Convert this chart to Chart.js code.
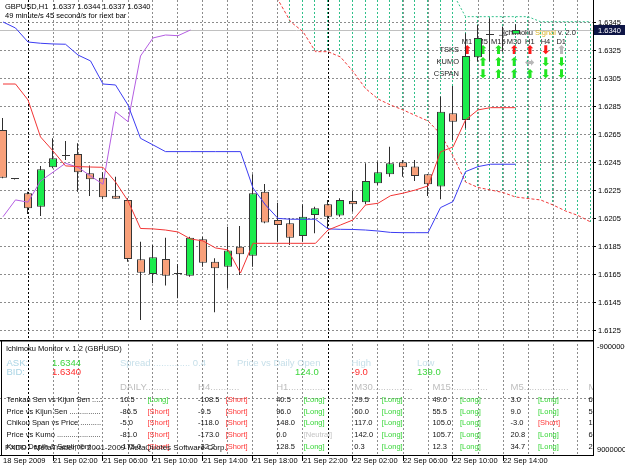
<!DOCTYPE html>
<html>
<head>
<meta charset="utf-8">
<script src="https://cdn.jsdelivr.net/npm/chart.js@4.4.1/dist/chart.umd.min.js"></script>
<style>
  html, body { margin: 0; padding: 0; background: #fff; }
</style>
</head>
<body>
<canvas id="ichi" width="625" height="469"></canvas>
<script>
// GBPUSD H1, one entry per bar, 18 Sep 22:00 -> 22 Sep 15:00
var opens  = [1.62686,1.62336,1.62234,1.62138,1.62419,1.62500,1.62514,1.62376,1.62345,1.62216,
              1.62186,1.61762,1.61657,1.61764,1.61657,1.61645,1.61905,1.61745,1.61709,1.61852,
              1.61788,1.62245,1.62043,1.62019,1.61929,1.62079,1.62155,1.62074,1.62179,1.62169,
              1.62305,1.62369,1.62455,1.62424,1.62369,1.62281,1.62805,1.62757,1.63205,1.63364,
              1.63359,1.63370];
var highs  = [1.62771,1.62340,1.62245,1.62429,1.62626,1.62607,1.62591,1.62431,1.62384,1.62352,
              1.62198,1.61888,1.61864,1.61916,1.61729,1.61923,1.61923,1.61769,1.61995,1.62000,
              1.62369,1.62300,1.62166,1.62055,1.62155,1.62138,1.62186,1.62198,1.62252,1.62448,
              1.62459,1.62566,1.62471,1.62471,1.62371,1.62924,1.63000,1.63376,1.63436,1.63484,
              1.63424,1.63440];
var lows   = [1.62340,1.62332,1.62086,1.62071,1.62412,1.62471,1.62245,1.62214,1.62191,1.62195,
              1.61745,1.61329,1.61591,1.61574,1.61484,1.61638,1.61709,1.61384,1.61555,1.61650,
              1.61709,1.62020,1.61888,1.61864,1.61888,1.61948,1.61984,1.62066,1.62102,1.62155,
              1.62293,1.62352,1.62352,1.62321,1.62214,1.62191,1.62614,1.62698,1.63174,1.63174,
              1.63245,1.63370];
var closes = [1.62345,1.62336,1.62126,1.62405,1.62484,1.62504,1.62384,1.62334,1.62205,1.62195,
              1.61764,1.61666,1.61776,1.61645,1.61657,1.61916,1.61738,1.61698,1.61824,1.61798,
              1.62234,1.62024,1.62007,1.61916,1.62066,1.62126,1.62066,1.62186,1.62155,1.62321,
              1.62384,1.62448,1.62419,1.62357,1.62298,1.62816,1.62745,1.63214,1.63343,1.63364,
              1.63359,1.63400];

var tenkan = [1.63014,1.63014,1.62900,1.62636,1.62536,1.62429,1.62424,1.62421,1.62419,1.62314,
              1.62179,1.61982,1.61979,1.61971,1.61957,1.61907,1.61893,1.61843,1.61829,1.61664,
              1.61876,1.61876,1.61876,1.61876,1.61876,1.61876,1.61971,1.62007,1.62043,1.62150,
              1.62162,1.62216,1.62234,1.62257,1.62286,1.62529,1.62564,1.62757,1.62829,1.62845,
              1.62845,1.62845];
var kijun  = [1.63457,1.63414,1.63314,1.63305,1.63300,1.63298,1.63221,1.63179,1.63014,1.63007,
              1.62864,1.62626,1.62579,1.62531,1.62531,1.62531,1.62531,1.62531,1.62531,1.62531,
              1.62271,1.62150,1.62054,1.62048,1.62048,1.62048,1.61979,1.61976,1.61975,1.61971,
              1.61964,1.61954,1.61952,1.61952,1.61952,1.62131,1.62174,1.62388,1.62424,1.62441,
              1.62441,1.62441];
// chikou span starts at bar 0
var chikou = [1.62066,1.62186,1.62170,1.62321,1.62384,1.62448,1.62419,1.62357,1.62298,1.62816,
              1.62745,1.63214,1.63343,1.63364,1.63359,1.63400];
// senkou spans start at bar 21 (shifted into the future)
var kumoStart = 21;
var senkouA = [1.63700,1.63616,1.63459,1.63388,1.63245,1.63245,1.63207,1.63104,1.62982,1.62907,
               1.62864,1.62829,1.62789,1.62750,1.62657,1.62500,1.62314,1.62275,1.62257,1.62239,
               1.62207,1.62196,1.62186,1.62150,1.62107,1.62075,1.62029];
var senkouB = [1.63660,1.63660,1.63660,1.63660,1.63660,1.63660,1.63660,1.63660,1.63660,1.63660,
               1.63660,1.63660,1.63660,1.63660,1.63660,1.63660,1.63495,1.63495,1.63495,1.63495,
               1.63495,1.63495,1.63459,1.63459,1.63459,1.63459,1.63459];

var priceTicks = [1.6125,1.6145,1.6165,1.6185,1.6205,1.6225,1.6245,1.6265,1.6285,1.6305,1.6325,1.6345];
var timeTickBars = [0,4,8,12,16,20,24,28,32,36,40];
var timeTickLabels = ['18 Sep 2009','21 Sep 02:00','21 Sep 06:00','21 Sep 10:00','21 Sep 14:00',
                      '21 Sep 18:00','21 Sep 22:00','22 Sep 02:00','22 Sep 06:00','22 Sep 10:00','22 Sep 14:00'];
var daySeparators = [2, 26];
var askPrice = 1.6344;

// Ichimoku Signal v. 2.0 panel
var panelCols = ['M1','M5','M15','M30','H1','H4','D1'];
var panelRows = ['TSKS','KUMO','CSPAN'];
var panelArrows = [
  ['up:r','up:g','up:g','up:r','up:r','dn:r','up:s'],
  ['up:g','up:g','up:g','up:g','lr:s','dn:g','dn:g'],
  ['dn:g','dn:g','up:g','up:g','up:g','dn:g','dn:g']
];

// Ichimoku Monitor v. 1.2 table
var monFrames = ['DAILY.........','H4...........','H1..............','M30...............','M15..............','M5.................','M1...........'];
var monRows = ['Tenkan Sen vs Kijun Sen','Price vs Kijun Sen','Chikou Span vs Price','Price vs Kumo','Kumo Depth & Sentiment'];
var monValues = [
  ['10.5','-108.5','40.5','29.5','49.0','3.0','6.5'],
  ['-86.5','-9.5','96.0','60.0','55.5','9.0','5.0'],
  ['-5.0','-118.0','148.0','117.0','105.0','-3.0','10.0'],
  ['-81.0','-173.0','0.0','142.0','105.7','20.8','6.0'],
  ['-175.0','-32.2','128.5','0.3','12.3','34.7','2.5']
];
var monSignals = [
  ['Long','Short','Long','Long','Long','Long','Long'],
  ['Short','Short','Long','Long','Long','Long','Long'],
  ['Short','Short','Long','Long','Long','Short','Long'],
  ['Short','Short','Neutral','Long','Long','Long','Long'],
  ['Short','Short','Long','Long','Long','Long','Long']
];
var dailyOpenDiff = '124.0', highDiff = '-9.0', lowDiff = '139.0', spread = '0.4';

var FONT = '"Liberation Sans", Arial, sans-serif';
function f(px, w) { return (w ? w + ' ' : '') + px + 'px ' + FONT; }

var bull = '#1aec4c', bear = '#f8a07a';
var gridGray = '#8c8c8c';
var bodyColors = opens.map(function(o, i) {
  return closes[i] > o ? bull : (closes[i] < o ? bear : '#222');
});

function dotPattern(color) {
  var c = document.createElement('canvas');
  c.width = 1; c.height = 4;
  var g = c.getContext('2d');
  g.fillStyle = color;
  g.fillRect(0, 0, 1, 2);
  return g.createPattern(c, 'repeat');
}

function pts(values, start) {
  return values.map(function(v, i) { return {x: start + i, y: v}; });
}

function txt(ctx, s, x, y, font, color, align) {
  ctx.font = font;
  ctx.fillStyle = color;
  ctx.textAlign = align || 'left';
  ctx.textBaseline = 'middle';
  ctx.fillText(s, x, y);
}

var arrowGlyph = {up: '\u2B06', dn: '\u2B07', lr: '\u2B0C'};
var arrowColor = {r: '#ff1a1a', g: '#22e622', s: '#b8b8b8'};
var sigColor = {Long: '#36d636', Short: '#ff3838', Neutral: '#c4c4c4'};

var overlay = {
  id: 'mtOverlay',
  afterDatasetsUpdate: function(chart) {
    // snap bars onto whole pixels like the terminal does
    chart.data.datasets.forEach(function(ds, i) {
      if (ds.type !== 'bar') return;
      chart.getDatasetMeta(i).data.forEach(function(el) {
        var r = Math.round(el.x);
        el.x = ds.maxBarThickness === 1 ? r - 0.5 : r;
      });
    });
  },
  beforeDatasetsDraw: function(chart) {
    var ctx = chart.ctx, a = chart.chartArea, ys = chart.scales.y;
    ctx.save();
    // sub window level line
    ctx.strokeStyle = gridGray;
    ctx.lineWidth = 1;
    ctx.setLineDash([2, 2]);
    ctx.beginPath();
    ctx.moveTo(a.left, 398.5); ctx.lineTo(a.right, 398.5);
    ctx.stroke();
    ctx.setLineDash([]);
    // bid line
    ctx.strokeStyle = '#c0c0c0';
    var by = Math.round(ys.getPixelForValue(closes[closes.length - 1])) + 0.5;
    ctx.beginPath();
    ctx.moveTo(a.left, by); ctx.lineTo(a.right, by);
    ctx.stroke();

    // signal panel (candles are drawn over it)
    var t0 = 'Ichimoku ', t1 = 'Signal', t2 = ' v. 2.0';
    ctx.font = f(7.5);
    var w0 = ctx.measureText(t0).width, w1 = ctx.measureText(t1).width;
    txt(ctx, t0, 503, 33, f(7.5), '#222');
    txt(ctx, t1, 503 + w0, 33, f(7.5), '#d8b429');
    txt(ctx, t2, 503 + w0 + w1, 33, f(7.5), '#222');
    panelCols.forEach(function(c, k) {
      txt(ctx, c, 467 + 15.7 * k, 41.5, f(7.5), '#222', 'center');
    });
    panelRows.forEach(function(r, j) {
      var y = 50 + 12 * j;
      txt(ctx, r, 459, y, f(7.5), '#222', 'right');
      panelArrows[j].forEach(function(code, k) {
        var p = code.split(':');
        txt(ctx, arrowGlyph[p[0]], 467 + 15.7 * k, y + 0.5, 'bold 12px "DejaVu Sans"', arrowColor[p[1]], 'center');
      });
    });
    ctx.restore();
  },
  afterDraw: function(chart) {
    var ctx = chart.ctx, a = chart.chartArea, ys = chart.scales.y;
    var n = closes.length - 1;
    ctx.save();
    // chart header
    var ohlc = [opens[n], highs[n], lows[n], closes[n]].map(function(v) { return v.toFixed(4); }).join(' ');
    txt(ctx, 'GBPUSD,H1  ' + ohlc, 5, 7, f(7.5), '#000');
    txt(ctx, '49 minute/s 45 second/s for next bar', 5, 16, f(7.5), '#000');

    // bid label on the price scale
    var by = Math.round(ys.getPixelForValue(closes[n]));
    ctx.fillStyle = '#0e1545';
    ctx.fillRect(a.right + 1, by - 5, 40, 10);
    txt(ctx, closes[n].toFixed(4), a.right + 5, by + 0.5, f(7.5), '#fff');

    // window separator and sub window frame
    ctx.fillStyle = '#000';
    ctx.fillRect(0, 340, a.right, 1);
    ctx.fillStyle = '#808080';
    ctx.fillRect(0, 341, a.right, 1);
    ctx.fillStyle = '#000';
    ctx.fillRect(1, 341, 1, a.bottom - 341);
    txt(ctx, '-9000000', a.right + 4, 346.5, f(7.5), '#000');
    txt(ctx, '9000000', a.right + 4, 450, f(7.5), '#000');

    // Ichimoku Monitor text
    ctx.beginPath();
    ctx.rect(0, 342, a.right, a.bottom - 342);
    ctx.clip();
    txt(ctx, 'Ichimoku Monitor v. 1.2 (GBPUSD)', 6, 348.5, f(7.5), '#000');
    var lb = '#a9d4e4', lb2 = '#c6dfe9', gr = '#3ed63e', rd = '#ff2e2e';
    txt(ctx, 'ASK:', 6.5, 363.5, f(9.5), lb);
    txt(ctx, askPrice.toFixed(4), 52, 363.5, f(9.5), gr);
    txt(ctx, 'BID:', 6.5, 372.5, f(9.5), lb);
    txt(ctx, closes[n].toFixed(4), 52, 372.5, f(9.5), rd);
    txt(ctx, 'Spread .............. ' + spread, 120, 363.5, f(9.5), lb2);
    txt(ctx, 'Price vs Daily Open', 237, 363.5, f(9.5), lb2);
    txt(ctx, dailyOpenDiff, 295, 372.5, f(9.5), gr);
    txt(ctx, 'High', 351.5, 363.5, f(9.5), lb2);
    txt(ctx, highDiff, 351.5, 372.5, f(9.5), rd);
    txt(ctx, 'Low', 417, 363.5, f(9.5), lb2);
    txt(ctx, lowDiff, 417, 372.5, f(9.5), gr);

    monFrames.forEach(function(h, k) {
      txt(ctx, h, 120 + 78.1 * k, 387.5, f(9.5), '#bdbdbd');
    });
    monRows.forEach(function(r, j) {
      var y = 400 + 11.7 * j;
      ctx.font = f(7.5);
      var s = r + ' ';
      while (ctx.measureText(s + '.').width < 96) s += '.';
      txt(ctx, s, 6.5, y, f(7.5), '#111');
      monValues[j].forEach(function(v, k) {
        var x = 120 + 78.1 * k;
        txt(ctx, v, x, y, f(7.5), '#111');
        var sg = monSignals[j][k];
        txt(ctx, '[' + sg + ']', x + 27.5, y, f(7.5), sigColor[sg]);
      });
    });
    txt(ctx, 'FXDD - MetaTrader, \u00A9 2001-2009 MetaQuotes Software Corp.', 5, 447.5, f(8), '#111');
    ctx.restore();
  }
};

var ctx = document.getElementById('ichi').getContext('2d');
var hatch = dotPattern('#2fc08a');

new Chart(ctx, {
  type: 'bar',
  data: {
    datasets: [
      {
        type: 'bar', label: 'Kumo',
        data: senkouA.map(function(v, i) { return {x: kumoStart + i, y: [v, senkouB[i]]}; }),
        backgroundColor: hatch, borderWidth: 0, grouped: false, maxBarThickness: 1, order: 9
      },
      {
        type: 'line', label: 'Senkou Span B', data: pts(senkouB, kumoStart),
        borderColor: '#2fc08a', borderWidth: 1, borderDash: [2, 2], pointRadius: 0, tension: 0, order: 8
      },
      {
        type: 'line', label: 'Senkou Span A', data: pts(senkouA, kumoStart),
        borderColor: '#f03a3a', borderWidth: 1, borderDash: [3, 2], pointRadius: 0, tension: 0, order: 7
      },
      {
        type: 'bar', label: 'Wick',
        data: highs.map(function(h, i) { return {x: i, y: [lows[i], h]}; }),
        backgroundColor: '#2e2e2e', borderWidth: 0, grouped: false, maxBarThickness: 1, order: 6
      },
      {
        type: 'bar', label: 'Body',
        data: opens.map(function(o, i) { return {x: i, y: [o, closes[i]]}; }),
        backgroundColor: bodyColors, borderColor: '#363636', borderWidth: 1, borderSkipped: false,
        grouped: false, maxBarThickness: 8, minBarLength: 1, order: 5
      },
      {
        type: 'line', label: 'Chikou Span', data: pts(chikou, 0),
        borderColor: '#b45ee2', borderWidth: 1, pointRadius: 0, tension: 0, order: 4
      },
      {
        type: 'line', label: 'Kijun Sen', data: pts(kijun, 0),
        borderColor: '#3c3cf2', borderWidth: 1, pointRadius: 0, tension: 0, order: 3
      },
      {
        type: 'line', label: 'Tenkan Sen', data: pts(tenkan, 0),
        borderColor: '#f23535', borderWidth: 1, pointRadius: 0, tension: 0, order: 2
      }
    ]
  },
  options: {
    responsive: false,
    animation: false,
    devicePixelRatio: 1,
    layout: { padding: 0 },
    plugins: { legend: { display: false }, tooltip: { enabled: false } },
    scales: {
      x: {
        type: 'linear', min: -0.24, max: 47.2, offset: false,
        grid: {
          offset: false, lineWidth: 1, tickLength: 6,
          color: function(c) {
            var v = c.tick ? c.tick.value : null;
            if (v === 0) return 'rgba(0,0,0,0)';
            return daySeparators.indexOf(v) >= 0 ? '#000' : gridGray;
          },
          tickColor: function(c) {
            var v = c.tick ? c.tick.value : null;
            return timeTickBars.indexOf(v) > 0 ? '#000' : 'rgba(0,0,0,0)';
          }
        },
        border: { display: true, color: '#000', dash: [2, 2] },
        ticks: {
          align: 'start', autoSkip: false, maxRotation: 0, padding: -5,
          color: '#000', font: { family: FONT, size: 7.5 },
          callback: function(v) {
            var k = timeTickBars.indexOf(v);
            return k >= 0 ? timeTickLabels[k] : '';
          }
        },
        afterBuildTicks: function(s) {
          var t = [];
          for (var v = 0; v <= 46; v += 2) t.push({value: v});
          s.ticks = t;
        },
        afterFit: function(s) { s.height = 14; s.paddingLeft = 0; s.paddingRight = 0; }
      },
      y: {
        type: 'linear', position: 'right', min: 1.60364, max: 1.63614, beginAtZero: false,
        grid: { color: gridGray, lineWidth: 1, tickLength: 3, tickColor: '#000' },
        border: { display: true, color: '#000', dash: [2, 2] },
        ticks: {
          padding: 2, autoSkip: false, color: '#000', font: { family: FONT, size: 7.5 },
          callback: function(v) { return v.toFixed(4); }
        },
        afterBuildTicks: function(s) {
          s.ticks = priceTicks.map(function(v) { return {value: v}; });
        },
        afterFit: function(s) { s.width = 32; s.paddingTop = 0; s.paddingBottom = 0; }
      }
    }
  },
  plugins: [overlay]
});
</script>
</body>
</html>
